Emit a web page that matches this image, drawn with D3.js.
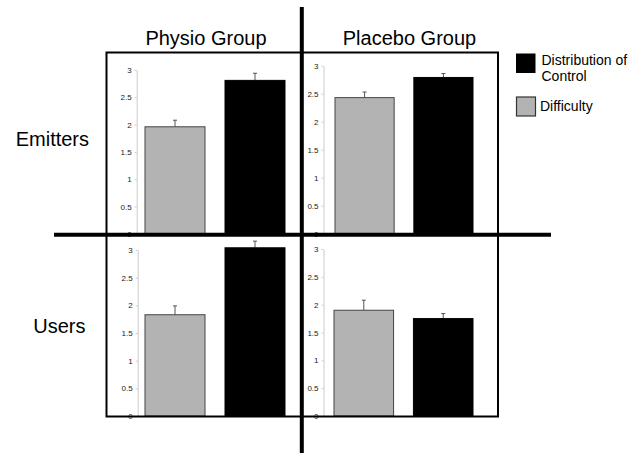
<!DOCTYPE html>
<html>
<head>
<meta charset="utf-8">
<script src="https://cdn.jsdelivr.net/npm/d3@7"></script>
<style>
  body { margin: 0; background: #fff; }
  svg { display: block; font-family: "Liberation Sans", Arial, Helvetica, sans-serif; }
</style>
</head>
<body>
<div id="chart"></div>
<script>
// Data
var groups = ["Physio Group", "Placebo Group"];
var roles = ["Emitters", "Users"];
var measures = ["Difficulty", "Distribution of Control"];
var tickValues = [0, 0.5, 1, 1.5, 2, 2.5, 3];

// [Difficulty, Distribution of Control] per panel
var emittersPhysio = [1.96, 2.81];
var emittersPlacebo = [2.43, 2.79];
var usersPhysio = [1.83, 3.04];
var usersPlacebo = [1.90, 1.75];

// upper error bar lengths
var emittersPhysioErr = [0.12, 0.13];
var emittersPlaceboErr = [0.10, 0.07];
var usersPhysioErr = [0.16, 0.12];
var usersPlaceboErr = [0.18, 0.09];

var svgWidth = 642, svgHeight = 456;
var colors = { "Difficulty": "#b3b3b3", "Distribution of Control": "#000" };

var svg = d3.select("#chart")
  .append("svg")
  .attr("width", svgWidth)
  .attr("height", svgHeight);

// panel placement (layout only)
var panels = [
  { vals: emittersPhysio, err: emittersPhysioErr, axisX: 136.7, xr: [145, 285], yr: [233.8, 70] },
  { vals: emittersPlacebo, err: emittersPlaceboErr, axisX: 323.5, xr: [335, 473], yr: [233.7, 65.7] },
  { vals: usersPhysio, err: usersPhysioErr, axisX: 137.7, xr: [145, 285], yr: [416, 250] },
  { vals: usersPlacebo, err: usersPlaceboErr, axisX: 323.5, xr: [334, 473], yr: [416, 249] }
];

panels.forEach(function(p) {
  var x = d3.scaleBand().domain(measures).range(p.xr).paddingInner(0.25).paddingOuter(0);
  var y = d3.scaleLinear().domain([0, 3]).range(p.yr);
  var g = svg.append("g");

  // axis
  var axis = g.append("g")
    .attr("transform", `translate(${p.axisX},0)`)
    .call(d3.axisLeft(y).tickValues(tickValues).tickFormat(d => String(d))
      .tickSizeInner(2).tickSizeOuter(0).tickPadding(3));
  axis.select(".domain").attr("stroke", "#ccc");
  axis.selectAll(".tick line").attr("stroke", "#ccc");
  axis.selectAll(".tick text")
    .attr("fill", "#222")
    .style("font-size", "8px")
    .style("font-family", "Liberation Sans, Arial, sans-serif");

  var rows = measures.map((m, i) => ({ m: m, v: p.vals[i], e: p.err[i] }));

  // error bars (upper only)
  g.selectAll(".err")
    .data(rows)
    .enter()
    .append("line")
    .attr("x1", d => x(d.m) + x.bandwidth() / 2)
    .attr("x2", d => x(d.m) + x.bandwidth() / 2)
    .attr("y1", d => y(d.v))
    .attr("y2", d => y(d.v + d.e))
    .attr("stroke", "#555")
    .attr("stroke-width", 1);

  g.selectAll(".cap")
    .data(rows)
    .enter()
    .append("line")
    .attr("x1", d => x(d.m) + x.bandwidth() / 2 - 2)
    .attr("x2", d => x(d.m) + x.bandwidth() / 2 + 2)
    .attr("y1", d => y(d.v + d.e))
    .attr("y2", d => y(d.v + d.e))
    .attr("stroke", "#555")
    .attr("stroke-width", 1);

  // bars
  g.selectAll("rect")
    .data(rows)
    .enter()
    .append("rect")
    .attr("x", d => x(d.m))
    .attr("y", d => y(d.v))
    .attr("width", x.bandwidth())
    .attr("height", d => y(0) - y(d.v))
    .attr("fill", d => colors[d.m])
    .attr("stroke", d => d.m === "Difficulty" ? "#444" : "#000")
    .attr("stroke-width", 1);
});

// outer frame
svg.append("rect")
  .attr("x", 106.5)
  .attr("y", 52.5)
  .attr("width", 391.5)
  .attr("height", 364)
  .attr("fill", "none")
  .attr("stroke", "#000")
  .attr("stroke-width", 2);

// cross lines
svg.append("line")
  .attr("x1", 54).attr("x2", 551)
  .attr("y1", 234.7).attr("y2", 234.7)
  .attr("stroke", "#000").attr("stroke-width", 4);

svg.append("line")
  .attr("x1", 301.8).attr("x2", 301.8)
  .attr("y1", 7).attr("y2", 453)
  .attr("stroke", "#000").attr("stroke-width", 4);

// group titles
svg.selectAll(".title")
  .data(groups)
  .enter()
  .append("text")
  .attr("x", (d, i) => [206, 409.5][i])
  .attr("y", 45)
  .attr("text-anchor", "middle")
  .style("font-size", "20px")
  .text(d => d);

// row labels
svg.selectAll(".role")
  .data(roles)
  .enter()
  .append("text")
  .attr("x", (d, i) => [15.7, 33.3][i])
  .attr("y", (d, i) => [146, 332.7][i])
  .style("font-size", "20px")
  .text(d => d);

// legend
var legend = svg.append("g");
legend.append("rect")
  .attr("x", 516).attr("y", 53.5)
  .attr("width", 19.5).attr("height", 19.5)
  .attr("fill", colors["Distribution of Control"]);
legend.append("text")
  .attr("x", 541.5).attr("y", 65)
  .style("font-size", "14px")
  .selectAll("tspan")
  .data(["Distribution of", "Control"])
  .enter()
  .append("tspan")
  .attr("x", 541.5)
  .attr("dy", (d, i) => i === 0 ? 0 : 16)
  .text(d => d);

legend.append("rect")
  .attr("x", 516.5).attr("y", 97)
  .attr("width", 19).attr("height", 19)
  .attr("fill", colors["Difficulty"])
  .attr("stroke", "#333")
  .attr("stroke-width", 1.2);
legend.append("text")
  .attr("x", 540).attr("y", 110.7)
  .style("font-size", "14px")
  .text("Difficulty");
</script>
</body>
</html>
